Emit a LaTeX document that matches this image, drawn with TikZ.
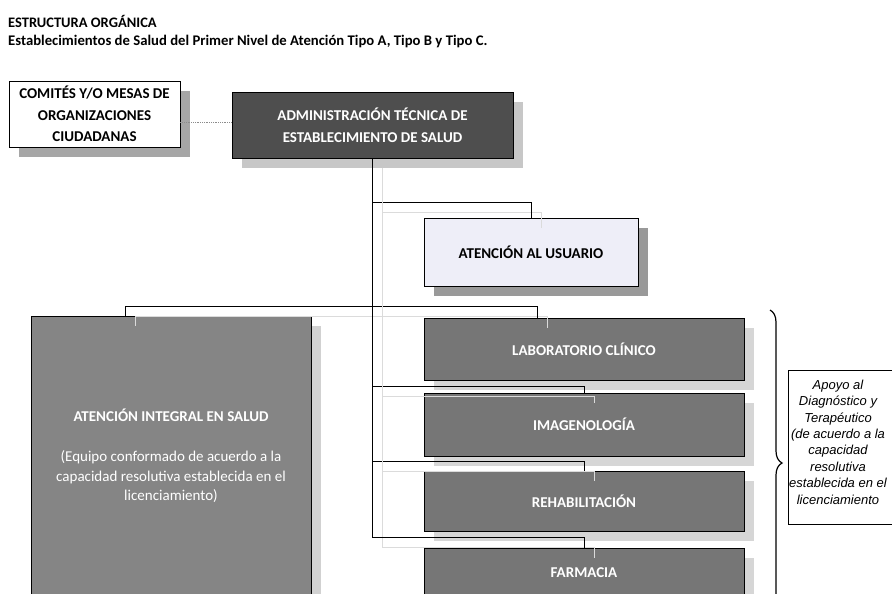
\documentclass[tikz,border=0pt]{standalone}
\usepackage{fontspec}
\setmainfont{Carlito}
\newfontfamily\arialfont{Liberation Sans}
\usepackage{xcolor}
\usetikzlibrary{calc,shadows,decorations.pathreplacing}

\definecolor{grisadmin}{HTML}{4E4E4E}
\definecolor{grisintegral}{HTML}{858585}
\definecolor{grisapoyo}{HTML}{767676}
\definecolor{lavanda}{HTML}{EEEEF8}

\tikzset{
  caja/.style={draw=black, line width=0.9pt, align=center, inner sep=0pt,
    font=\bfseries\fontsize{15}{22}\selectfont},
  cajaoscura/.style={caja, fill=#1, text=white},
  sombra/.style={drop shadow={shadow xshift=10pt, shadow yshift=-10pt, fill=#1, opacity=1}},
  conector/.style={line width=1pt,
    preaction={draw=black!14, line width=1pt, transform canvas={shift={(10pt,-10pt)}}}},
}

\begin{document}
\begin{tikzpicture}[x=1pt, y=-1pt]
  \useasboundingbox (0,0) rectangle (892,594);
  \clip (0,0) rectangle (892,594);

  % Titles
  \node[anchor=base west, inner sep=0pt, font=\bfseries\fontsize{14.5}{17}\selectfont] (titulo) at (8,28) {ESTRUCTURA ORGÁNICA};
  \node[anchor=base west, inner sep=0pt, font=\bfseries\fontsize{14.7}{17}\selectfont] (subtitulo) at (8,46) {Establecimientos de Salud del Primer Nivel de Atención Tipo A, Tipo B y Tipo C.};

  % Boxes
  \node[caja, fill=white, sombra=black!35, minimum width=171, minimum height=66,
    font=\bfseries\fontsize{15}{21.5}\selectfont] (comites) at (94.5,114) {COMITÉS Y/O MESAS DE\\ORGANIZACIONES\\CIUDADANAS};
  \node[cajaoscura=grisadmin, sombra=black!22, minimum width=281, minimum height=66] (admin) at (372.5,125) {ADMINISTRACIÓN TÉCNICA DE\\ESTABLECIMIENTO DE SALUD};
  \node[caja, fill=lavanda, sombra=black!40, minimum width=214, minimum height=68] (usuario) at (531,252) {ATENCIÓN AL USUARIO};
  \node[cajaoscura=grisintegral, sombra=black!18, minimum width=280, minimum height=280,
    font=\fontsize{15}{19.5}\selectfont] (integral) at (171,456) {\textbf{ATENCIÓN INTEGRAL EN SALUD}\\[20.5pt](Equipo conformado de acuerdo a la\\capacidad resolutiva establecida en el\\licenciamiento)};
  \node[cajaoscura=grisapoyo, sombra=black!16, minimum width=320, minimum height=62] (lab) at (584,349) {LABORATORIO CLÍNICO};
  \node[cajaoscura=grisapoyo, sombra=black!16, minimum width=320, minimum height=63] (imagen) at (584,424.5) {IMAGENOLOGÍA};
  \node[cajaoscura=grisapoyo, sombra=black!16, minimum width=320, minimum height=60] (rehab) at (584,501) {REHABILITACIÓN};
  \node[cajaoscura=grisapoyo, sombra=black!16, minimum width=320, minimum height=50] (farmacia) at (584,573) {FARMACIA};

  % Connectors
  \draw[densely dotted, black!45, line width=0.8pt] ([yshift=3pt]admin.west -| comites.east) -- ([yshift=3pt]admin.west);
  \draw[conector] (admin.south) |- ([yshift=15pt]usuario.north) -- (usuario.north);
  \draw[conector] ([xshift=-46pt]integral.north) -- ++(0,-9) -| ([xshift=-47pt]lab.north);
  \draw[conector] (admin.south) |- ([yshift=6pt]imagen.north) -- (imagen.north);
  \draw[conector] (admin.south) |- ([yshift=9pt]rehab.north) -- (rehab.north);
  \draw[conector] (admin.south) |- ([yshift=10pt]farmacia.north) -- (farmacia.north);

  % Brace and note
  \coordinate (llavearriba) at (770,310);
  \coordinate (llaveabajo) at (770,616);
  \draw[line width=1.2pt, decorate, decoration={brace, amplitude=12pt}] (llavearriba) -- (llaveabajo);
  \node[draw=black, line width=0.8pt, fill=white, minimum width=117, minimum height=154] (apoyo) at (846.5,447) {};
  \node[align=center, inner sep=0pt, font=\arialfont\itshape\fontsize{13}{16.4}\selectfont] (apoyotexto) at (838,442)
    {Apoyo al\\Diagnóstico y\\Terapéutico\\(de acuerdo a la\\capacidad\\resolutiva\\establecida en el\\licenciamiento};
\end{tikzpicture}
\end{document}
